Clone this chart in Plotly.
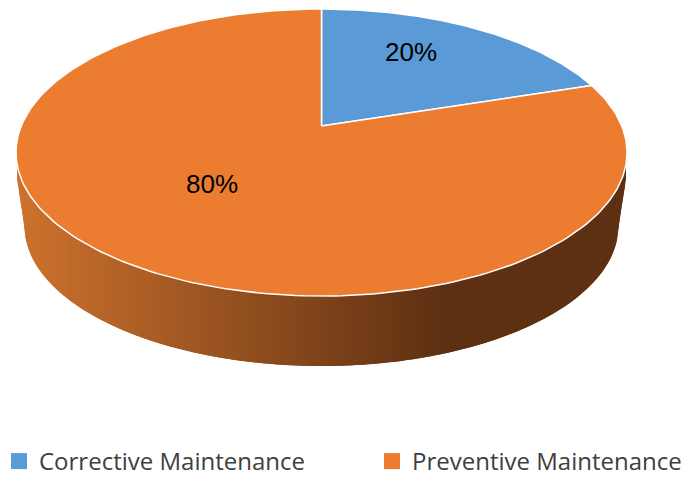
import numpy as np
import plotly.graph_objects as go

# ---- data ----
categories = ["Corrective Maintenance", "Preventive Maintenance"]
values = [20, 80]
colors = ["#5A9AD6", "#EB7C30"]

# ---- pie geometry (page pixels) ----
CX, CY, RX, RY = 321.5, 152.5, 305.5, 143.5     # outline of the top face
TILT = 0.1847                                   # perspective strength
BOT_CY, BOT_RX, BOT_RY = 226.0, 297.0, 140.0    # outline of the bottom face
SIDE_TOP_Y = 173.0
label_pos = [(411, 54), (212, 186)]
legend_x = [-1 / 687, 372 / 687]
legend_top = 439 / 477


def project(theta, r=1.0):
    """Circle point (clockwise angle from 12 o'clock) to the tilted face."""
    u, v = r * np.sin(theta), r * np.cos(theta)
    w = 1 + TILT * v
    x = CX + RX * np.sqrt(1 - TILT ** 2) * u / w
    y = CY - RY * (v + TILT) / w
    return x, y


def lerp_color(t):
    a, b = (206, 114, 45), (94, 48, 18)
    return "rgb(%d,%d,%d)" % tuple(round(p + (q - p) * t) for p, q in zip(a, b))


def top_lower(x):
    return CY + RY * np.sqrt(np.clip(1 - ((x - CX) / RX) ** 2, 0, 1))


def side_lower(x):
    inner = np.abs(x - CX) <= BOT_RX
    ell = BOT_CY + BOT_RY * np.sqrt(np.clip(1 - ((x - CX) / BOT_RX) ** 2, 0, 1))
    edge_frac = (RX - np.abs(x - CX)) / (RX - BOT_RX)
    line = SIDE_TOP_Y + edge_frac * (BOT_CY - SIDE_TOP_Y)
    return np.where(inner, ell, line)


fig = go.Figure()

# side wall as thin gradient strips, overlapping so no seams show
edges = np.arange(CX - RX + 1, CX + RX - 1 + 0.01, 2.0)
for x0, x1 in zip(edges[:-1], edges[1:]):
    xs = np.linspace(x0, min(x1 + 2.0, CX + RX - 1), 4)
    t = min(1.0, (0.5 * (x0 + x1) - 17) / (440 - 17))
    c = lerp_color(t)
    fig.add_trace(go.Scatter(
        x=np.r_[xs, xs[::-1]],
        y=np.r_[top_lower(xs) - 3, side_lower(xs)[::-1]],
        mode="lines", fill="toself", fillcolor=c, line=dict(width=0, color=c),
        hoverinfo="skip", showlegend=False))

# top-face slices, from the values
total = sum(values)
start = 0.0
for name, val, col in zip(categories, values, colors):
    sweep = 2 * np.pi * val / total
    th = np.linspace(start, start + sweep, 240)
    px, py = project(th)
    ax, ay = project(0.0, 0.0)
    fig.add_trace(go.Scatter(
        x=np.r_[ax, px, ax], y=np.r_[ay, py, ay],
        mode="lines", fill="toself", fillcolor=col,
        line=dict(color="white", width=1.5), hoverinfo="skip", showlegend=False))
    start += sweep

# percentage labels
for val, (lx, ly) in zip(values, label_pos):
    fig.add_trace(go.Scatter(
        x=[lx], y=[ly], mode="text", text=[f"{val * 100 // total}%"],
        textposition="middle center",
        textfont=dict(family="Liberation Sans", size=26, color="black"),
        hoverinfo="skip", showlegend=False))

# legend entries, each in its own legend box
for i, (name, col) in enumerate(zip(categories, colors)):
    fig.add_trace(go.Scatter(
        x=[None], y=[None], mode="markers", name=name,
        legend="legend" if i == 0 else "legend2",
        marker=dict(symbol="square", size=16, color=col)))

legend_style = dict(xanchor="left", y=1 - legend_top, yanchor="top",
                    itemsizing="trace",
                    font=dict(family="Open Sans", size=24, color="#404040"),
                    bgcolor="rgba(0,0,0,0)")

fig.update_layout(
    width=687, height=477,
    margin=dict(l=0, r=0, t=0, b=0, autoexpand=False),
    paper_bgcolor="white", plot_bgcolor="white",
    xaxis=dict(range=[0, 687], visible=False, fixedrange=True),
    yaxis=dict(range=[477, 0], visible=False, fixedrange=True),
    legend={**legend_style, "x": legend_x[0]},
    legend2={**legend_style, "x": legend_x[1]},
)
fig.write_html("out.html", config=dict(displayModeBar=False),
               post_script="document.body.style.margin='0';")
